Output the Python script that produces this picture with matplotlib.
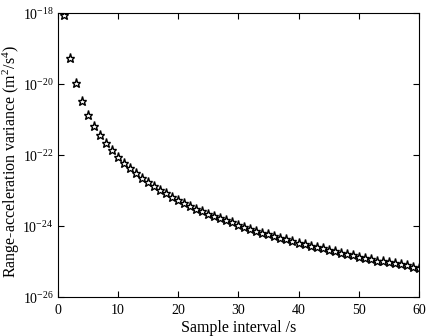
import matplotlib
matplotlib.use('Agg')
import matplotlib.pyplot as plt
import numpy as np

# sample intervals (s) and range-acceleration variance (m^2/s^4)
intervals = list(range(1, 61))
variance = [
    9.0e-19, 5.6e-20, 1.1e-20, 3.5e-21, 1.4e-21, 6.9e-22, 3.7e-22, 2.2e-22, 1.4e-22, 9.0e-23,
    6.1e-23, 4.3e-23, 3.2e-23, 2.3e-23, 1.8e-23, 1.4e-23, 1.1e-23, 8.6e-24, 6.9e-24, 5.6e-24,
    4.6e-24, 3.8e-24, 3.2e-24, 2.7e-24, 2.3e-24, 2.0e-24, 1.7e-24, 1.5e-24, 1.3e-24, 1.1e-24,
    9.8e-25, 8.6e-25, 7.6e-25, 6.7e-25, 6.0e-25, 5.4e-25, 4.8e-25, 4.3e-25, 3.9e-25, 3.5e-25,
    3.2e-25, 2.9e-25, 2.6e-25, 2.4e-25, 2.2e-25, 2.0e-25, 1.8e-25, 1.7e-25, 1.6e-25, 1.4e-25,
    1.3e-25, 1.2e-25, 1.1e-25, 1.05e-25, 9.8e-26, 9.2e-26, 8.5e-26, 8.0e-26, 7.4e-26, 6.9e-26,
]
x_ticks = [0, 10, 20, 30, 40, 50, 60]
y_ticks = [1e-26, 1e-24, 1e-22, 1e-20, 1e-18]

plt.rcParams['font.family'] = 'Liberation Serif'
plt.rcParams['mathtext.fontset'] = 'custom'
plt.rcParams['mathtext.rm'] = 'Liberation Serif'
plt.rcParams['mathtext.it'] = 'Liberation Serif'

fig = plt.figure(figsize=(4.26, 3.36), dpi=100)
ax = fig.add_axes([0.135, 0.1146, 0.8486, 0.8454])

ax.semilogy(intervals, variance, linestyle='none', marker='*', markersize=6.5,
            markerfacecolor='white', markeredgecolor='black', markeredgewidth=1.0)

ax.set_xlim(0, 60)
ax.set_ylim(1e-26, 1e-18)
ax.set_xticks(x_ticks)
ax.set_yticks(y_ticks)
ax.yaxis.set_minor_locator(matplotlib.ticker.NullLocator())
ax.tick_params(direction='in', top=True, right=True, length=4, width=0.8, labelsize=10)
ax.tick_params(axis='x', pad=5)
ax.tick_params(axis='y', pad=3)
ax.set_xlabel('Sample interval /s', fontsize=11.5, labelpad=2)
ax.set_ylabel('Range-acceleration variance (m$^2$/s$^4$)', fontsize=11.5)
ax.yaxis.set_label_coords(-0.098, 0.48)

fig.savefig('out.png', dpi=100)
